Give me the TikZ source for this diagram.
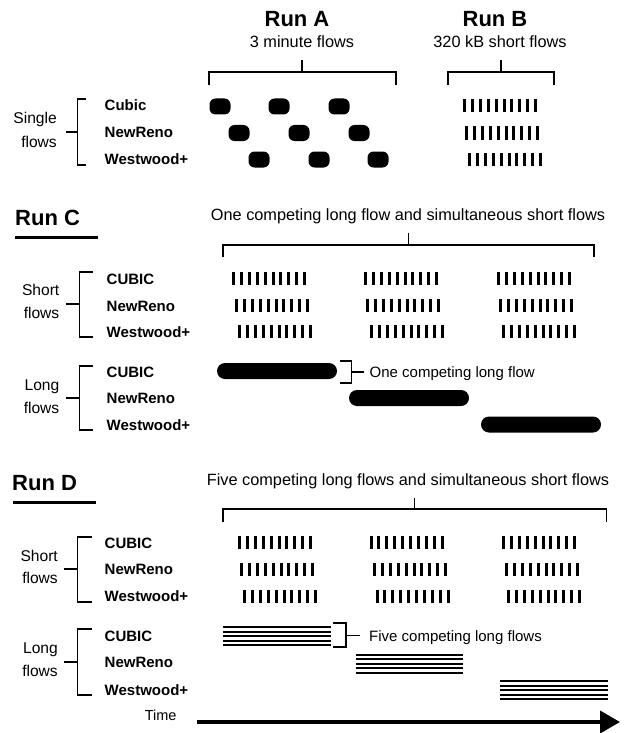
\documentclass[tikz,border=0pt]{standalone}
\usepackage{fontspec}
\setmainfont{Liberation Sans}
\usetikzlibrary{arrows.meta}
\tikzset{
  runtitle/.style={font=\fontsize{22}{26}\selectfont\bfseries, inner sep=0pt, anchor=base},
  sub/.style={font=\fontsize{16.3}{19}\selectfont, inner sep=0pt, anchor=base},
  rowlab/.style={font=\fontsize{15}{18}\selectfont\bfseries, inner sep=0pt, anchor=base west},
  grouplab/.style={font=\fontsize{15.6}{19}\selectfont, inner sep=0pt, anchor=base east},
  note/.style={font=\fontsize{15}{18}\selectfont, inner sep=0pt, anchor=base west},
  brk/.style={line width=1.1pt},
  uline/.style={line width=3pt},
  blob/.style={fill=black, rounded corners=6pt},
  longflow/.style={fill=black, rounded corners=8pt},
  stackline/.style={line width=2pt},
  timearrow/.style={line width=4pt, -{Triangle[length=20pt,width=22pt]}},
}
\newcommand\flowbars[2]{%
  \foreach \i in {0,...,9} {\fill ({#1+\i*7.9},{#2-6.5}) rectangle ++(3,13);}}
\newcommand\flowstack[3]{%
  \foreach \k in {0,...,4} {\draw[stackline] (#1,{#3+\k*4.6}) -- (#2,{#3+\k*4.6});}}
\begin{document}
\begin{tikzpicture}[x=1pt,y=-1pt]
\useasboundingbox (0,0) rectangle (631,733);
% ---------- Run A / Run B ----------
\node[runtitle] (runA) at (297,27) {Run A};
\node[runtitle] (runB) at (495,27) {Run B};
\node[sub] (subA) at (302,48) {3 minute flows};
\node[sub] (subB) at (500,48) {320 kB short flows};
\draw[brk] (302,60) -- (302,72);
\draw[brk] (209,85) -- (209,72) -- (396,72) -- (396,85);
\draw[brk] (501,60) -- (501,72);
\draw[brk] (448,85) -- (448,72) -- (554,72) -- (554,85);
\node[grouplab] (sg1) at (57,124) {Single};
\node[grouplab] (sg2) at (57,147) {flows};
\draw[brk] (86,99) -- (77.5,99) -- (77.5,165) -- (86,165);
\draw[brk] (65.5,132) -- (77.5,132);
\node[rowlab] (a1) at (104.5,111) {Cubic};
\node[rowlab] (a2) at (104.5,138) {NewReno};
\node[rowlab] (a3) at (104.5,164) {Westwood+};
\foreach \x in {220,279,339} {\fill[blob] (\x-10.5,98.5) rectangle ++(21,16);}
\foreach \x in {239,299,359} {\fill[blob] (\x-10.5,125) rectangle ++(21,16);}
\foreach \x in {259,319,378} {\fill[blob] (\x-10.5,151.5) rectangle ++(21,16);}
\flowbars{463}{106}
\flowbars{465}{133}
\flowbars{468}{159.5}
% ---------- Run C ----------
\node[runtitle, anchor=base west] (runC) at (15,225) {Run C};
\draw[uline] (15,237) -- (98,237);
\node[sub] (subC) at (408,220) {One competing long flow and simultaneous short flows};
\draw[brk] (408.5,233) -- (408.5,245);
\draw[brk] (223,257) -- (223,245) -- (594,245) -- (594,257);
\node[grouplab] (cs1) at (59.5,295) {Short};
\node[grouplab] (cs2) at (59.5,318) {flows};
\draw[brk] (93,272) -- (79.5,272) -- (79.5,337) -- (93,337);
\draw[brk] (66,304) -- (79.5,304);
\node[rowlab] (c1) at (106.5,284) {CUBIC};
\node[rowlab] (c2) at (106.5,311) {NewReno};
\node[rowlab] (c3) at (106.5,337) {Westwood+};
\foreach \x in {232,364,497} {\flowbars{\x}{278.5}}
\foreach \x in {235,366,499} {\flowbars{\x}{305}}
\foreach \x in {238,370,502} {\flowbars{\x}{331}}
\node[grouplab] (cl1) at (59.5,390) {Long};
\node[grouplab] (cl2) at (59.5,413) {flows};
\draw[brk] (93,366) -- (79.5,366) -- (79.5,430) -- (93,430);
\draw[brk] (66,398) -- (79.5,398);
\node[rowlab] (c4) at (106.5,377) {CUBIC};
\node[rowlab] (c5) at (106.5,403) {NewReno};
\node[rowlab] (c6) at (106.5,430) {Westwood+};
\fill[longflow] (217,363) rectangle (337,379);
\fill[longflow] (349,390) rectangle (469,406);
\fill[longflow] (481,416.5) rectangle (601,432.5);
\draw[brk] (340,361) -- (351.5,361) -- (351.5,383) -- (340,383);
\draw[brk] (351.5,372) -- (363.5,372);
\node[note] (noteC) at (369.5,377) {One competing long flow};
% ---------- Run D ----------
\node[runtitle, anchor=base west] (runD) at (12,490) {Run D};
\draw[uline] (13,502) -- (96,502);
\node[sub] (subD) at (408,485) {Five competing long flows and simultaneous short flows};
\draw[brk] (414.5,498) -- (414.5,509);
\draw[brk] (223,522) -- (223,509) -- (606.5,509) -- (606.5,522);
\node[grouplab] (ds1) at (58,561) {Short};
\node[grouplab] (ds2) at (58,583) {flows};
\draw[brk] (91.5,537) -- (77.5,537) -- (77.5,602) -- (91.5,602);
\draw[brk] (64,569) -- (77.5,569);
\node[rowlab] (d1) at (104.5,548) {CUBIC};
\node[rowlab] (d2) at (104.5,574) {NewReno};
\node[rowlab] (d3) at (104.5,601.5) {Westwood+};
\foreach \x in {238,369.5,502} {\flowbars{\x}{542.5}}
\foreach \x in {240,373,505} {\flowbars{\x}{569.5}}
\foreach \x in {243,375.5,507} {\flowbars{\x}{596}}
\node[grouplab] (dl1) at (58,653) {Long};
\node[grouplab] (dl2) at (58,676) {flows};
\draw[brk] (91.5,629) -- (77.5,629) -- (77.5,695) -- (91.5,695);
\draw[brk] (64,662) -- (77.5,662);
\node[rowlab] (d4) at (104.5,641.5) {CUBIC};
\node[rowlab] (d5) at (104.5,667) {NewReno};
\node[rowlab] (d6) at (104.5,695) {Westwood+};
\flowstack{223}{330.6}{627}
\flowstack{355.5}{463}{654.5}
\flowstack{500}{608}{681}
\draw[brk] (333,623) -- (346,623) -- (346,647) -- (333,647);
\draw[brk] (346,635.5) -- (359.5,635.5);
\node[note] (noteD) at (369,641) {Five competing long flows};
% ---------- Time ----------
\node[note, anchor=base, font=\fontsize{14.5}{17}\selectfont] (time) at (160.6,720) {Time};
\coordinate (t0) at (197,722);
\coordinate (t1) at (620,722);
\draw[timearrow] (t0) -- (t1);
\end{tikzpicture}
\end{document}
